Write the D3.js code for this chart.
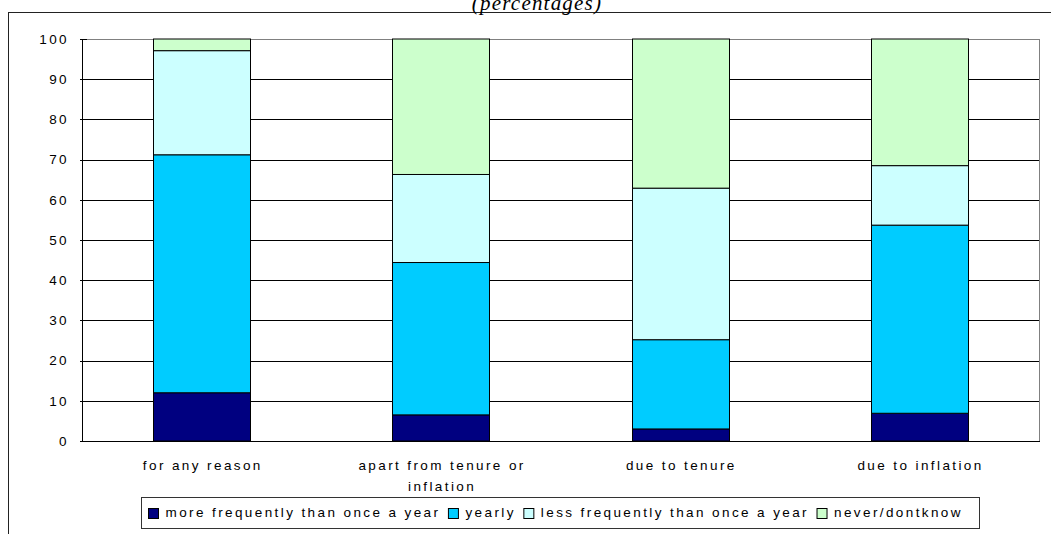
<!DOCTYPE html>
<meta charset="utf-8">
<head>
    <script type="text/javascript" src="https://cdn.jsdelivr.net/npm/d3@7"></script>
    <style>
        body { margin: 0; background: #fff; }
        svg text { font-family: "Liberation Sans", Arial, sans-serif; font-size: 13.5px; letter-spacing: 2.4px; fill: #000; }
        svg text.title { font-family: "Liberation Serif", "Times New Roman", serif; font-style: italic; font-size: 21px; letter-spacing: 1.2px; }
    </style>
</head>
<body>
<div id="chart"></div>
<script>
    // values (percent)
    let categories = ["for any reason", "apart from tenure or inflation", "due to tenure", "due to inflation"]
    let categoryLines = [["for any reason"], ["apart from tenure or", "inflation"], ["due to tenure"], ["due to inflation"]]
    let moreOften = [12.0, 6.5, 3.0, 6.9]
    let yearly = [59.2, 37.9, 22.2, 46.8]
    let lessOften = [25.9, 21.9, 37.7, 14.8]
    let never = [2.9, 33.7, 37.1, 31.5]
    let seriesNames = ["more frequently than once a year", "yearly", "less frequently than once a year", "never/dontknow"]
    let yTicks = [0, 10, 20, 30, 40, 50, 60, 70, 80, 90, 100]

    let colors = ["#000080", "#00ccff", "#ccffff", "#ccffcc"]

    let svg_width = 1051
    let svg_height = 534
    let plot = {left: 82, right: 1039, top: 39, bottom: 441}

    let svg = d3.select("#chart")
        .append("svg")
        .attr("width", svg_width)
        .attr("height", svg_height)

    // outer chart frame (runs off the right and bottom edges)
    svg.append("rect")
        .attr("x", 8.5).attr("y", 12.5)
        .attr("width", 1200).attr("height", 700)
        .attr("fill", "none").attr("stroke", "#222")

    svg.append("text")
        .attr("class", "title")
        .attr("x", 537).attr("y", 10)
        .attr("text-anchor", "middle")
        .text("(percentages)")

    let x = d3.scaleBand()
        .domain(categories)
        .range([plot.left, plot.right])
        .paddingInner(0.595)
        .paddingOuter(0.2975)

    let y = d3.scaleLinear()
        .domain([0, 100])
        .range([plot.bottom, plot.top])

    // plot area border
    svg.append("rect")
        .attr("x", plot.left + 0.5).attr("y", plot.top + 0.5)
        .attr("width", plot.right - plot.left).attr("height", plot.bottom - plot.top)
        .attr("fill", "none").attr("stroke", "#808080")

    // gridlines
    svg.append("g")
        .selectAll("line")
        .data(yTicks.filter(d => d > 0 && d < 100))
        .enter()
        .append("line")
        .attr("x1", plot.left).attr("x2", plot.right)
        .attr("y1", d => Math.round(y(d)) + 0.5)
        .attr("y2", d => Math.round(y(d)) + 0.5)
        .attr("stroke", "#000")

    // stacked bars
    let table = categories.map((c, i) => ({
        cat: c,
        s0: moreOften[i], s1: yearly[i], s2: lessOften[i], s3: never[i]
    }))
    let stacked = d3.stack().keys(["s0", "s1", "s2", "s3"])(table)

    svg.append("g")
        .selectAll("g")
        .data(stacked)
        .enter()
        .append("g")
        .attr("fill", (d, i) => colors[i])
        .selectAll("rect")
        .data(d => d)
        .enter()
        .append("rect")
        .attr("x", d => Math.round(x(d.data.cat)) + 0.5)
        .attr("width", Math.round(x.bandwidth()))
        .attr("y", d => y(Math.min(d[1], 100)))
        .attr("height", d => y(d[0]) - y(Math.min(d[1], 100)))
        .attr("stroke", "#000")
        .attr("stroke-width", 1)

    // axes lines
    svg.append("line")
        .attr("x1", plot.left + 0.5).attr("x2", plot.left + 0.5)
        .attr("y1", plot.top).attr("y2", plot.bottom + 1)
        .attr("stroke", "#000")
    svg.append("line")
        .attr("x1", plot.left).attr("x2", plot.right + 1)
        .attr("y1", plot.bottom + 0.5).attr("y2", plot.bottom + 0.5)
        .attr("stroke", "#000")

    // y ticks and labels
    let yAxis = svg.append("g")
    yAxis.selectAll("line")
        .data(yTicks)
        .enter()
        .append("line")
        .attr("x1", plot.left - 2).attr("x2", plot.left + 5)
        .attr("y1", d => Math.round(y(d)) + 0.5)
        .attr("y2", d => Math.round(y(d)) + 0.5)
        .attr("stroke", "#000")
    yAxis.selectAll("text")
        .data(yTicks)
        .enter()
        .append("text")
        .attr("x", 69)
        .attr("y", d => y(d) + 4.8)
        .attr("text-anchor", "end")
        .text(d => d)

    // category labels
    let catLabels = svg.append("g")
        .selectAll("text")
        .data(categories)
        .enter()
        .append("text")
        .attr("text-anchor", "middle")
        .attr("y", 469.5)
    catLabels.selectAll("tspan")
        .data((d, i) => categoryLines[i].map(t => ({t: t, c: d})))
        .enter()
        .append("tspan")
        .attr("x", d => x(d.c) + x.bandwidth() / 2 + 1.2)
        .attr("dy", (d, i) => i === 0 ? 0 : 21)
        .text(d => d.t)

    // legend
    let legend = svg.append("g")
    legend.append("rect")
        .attr("x", 141.5).attr("y", 497.5)
        .attr("width", 838).attr("height", 31)
        .attr("fill", "#fff").attr("stroke", "#333")

    let lx = 148.5
    seriesNames.forEach(function (name, i) {
        legend.append("rect")
            .attr("x", lx).attr("y", 508.5)
            .attr("width", 10).attr("height", 10)
            .attr("fill", colors[i]).attr("stroke", "#000")
        let t = legend.append("text")
            .attr("x", lx + 17)
            .attr("y", 517)
            .text(name)
        lx = lx + 17 + t.node().getComputedTextLength() + 8
    })
</script>
</body>
</html>
